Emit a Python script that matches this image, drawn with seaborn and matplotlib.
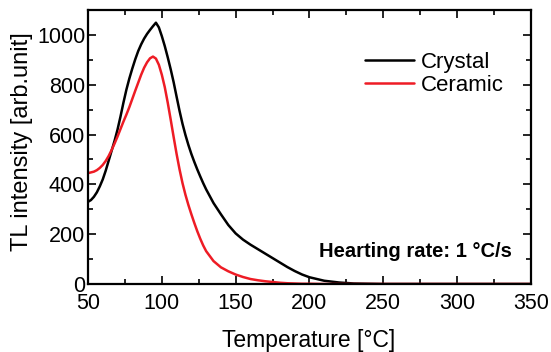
import pandas as pd
import matplotlib
matplotlib.use('Agg')
import matplotlib.pyplot as plt
import seaborn as sns
from matplotlib.ticker import MultipleLocator

# Temperature grid (degC) and TL intensities
temperature = [50, 52, 54, 56, 58, 60, 62, 64, 66, 68, 70, 72, 74, 76, 78, 80,
               82, 84, 86, 88, 90, 92, 94, 96, 98, 100, 102, 104, 106, 108, 110,
               112, 114, 116, 118, 120, 122, 124, 126, 128, 130, 135, 140, 145,
               150, 155, 160, 165, 170, 175, 180, 185, 190, 195, 200, 210, 220,
               230, 240, 250, 275, 300, 325, 350]
crystal = [330, 337, 350, 368, 392, 420, 455, 495, 535, 575, 620, 672, 728, 780,
           825, 865, 902, 935, 962, 985, 1004, 1020, 1035, 1049, 1030, 995, 955,
           910, 862, 810, 752, 695, 643, 598, 558, 522, 490, 460, 432, 405, 380,
           325, 280, 237, 203, 178, 158, 140, 122, 104, 86, 68, 52, 38, 27, 13,
           6, 2, 1, 0, 0, 0, 0, 0]
ceramic = [445, 448, 451, 457, 466, 478, 494, 514, 538, 564, 592, 622, 652, 680,
           710, 743, 776, 808, 840, 868, 890, 906, 913, 905, 880, 840, 790, 728,
           660, 590, 522, 460, 405, 358, 317, 280, 245, 212, 182, 155, 132, 92,
           67, 51, 38, 28, 20, 15, 11, 8, 5, 3, 2, 1, 1, 0, 0, 0, 0, 0, 0, 0, 0, 0]

df = pd.DataFrame({'Temperature': temperature * 2,
                   'Intensity': crystal + ceramic,
                   'Sample': ['Crystal'] * len(temperature) + ['Ceramic'] * len(temperature)})

sns.set_style('ticks')
plt.rcParams['font.family'] = ['Liberation Sans', 'DejaVu Sans']
plt.rcParams['text.color'] = 'black'
plt.rcParams['axes.labelcolor'] = 'black'

fig = plt.figure(figsize=(5.51, 3.52), dpi=100)
ax = fig.add_axes([0.1597, 0.1932, 0.804, 0.7784])

sns.lineplot(data=df, x='Temperature', y='Intensity', hue='Sample',
             palette={'Crystal': 'black', 'Ceramic': '#ee1c25'},
             linewidth=1.8, ax=ax, sort=False)

ax.set_xlim(50, 350)
ax.set_ylim(0, 1100)
ax.xaxis.set_major_locator(MultipleLocator(50))
ax.xaxis.set_minor_locator(MultipleLocator(25))
ax.yaxis.set_major_locator(MultipleLocator(200))
ax.yaxis.set_minor_locator(MultipleLocator(100))
ax.tick_params(which='both', direction='in', top=True, right=True,
               width=1.2, labelsize=15.5, colors='black')
ax.tick_params(axis='y', pad=2)
ax.tick_params(axis='x', pad=6.5)
ax.tick_params(which='major', length=6)
ax.tick_params(which='minor', length=3.6)
for s in ax.spines.values():
    s.set_linewidth(1.6)
    s.set_color('black')

ax.set_xlabel('Temperature [°C]', fontsize=16.5)
ax.set_ylabel('TL intensity [arb.unit]', fontsize=17)
ax.xaxis.set_label_coords(0.499, -0.165)
ax.yaxis.set_label_coords(-0.124, 0.52)

ax.legend(loc='upper right', bbox_to_anchor=(0.985, 0.92), frameon=False,
          fontsize=16, handlelength=2.2, handletextpad=0.35, labelspacing=0.1)

ax.text(337, 108, 'Hearting rate: 1 °C/s', ha='right', va='baseline',
        fontsize=14.5, fontweight='bold')

fig.savefig('out.png', dpi=100)
